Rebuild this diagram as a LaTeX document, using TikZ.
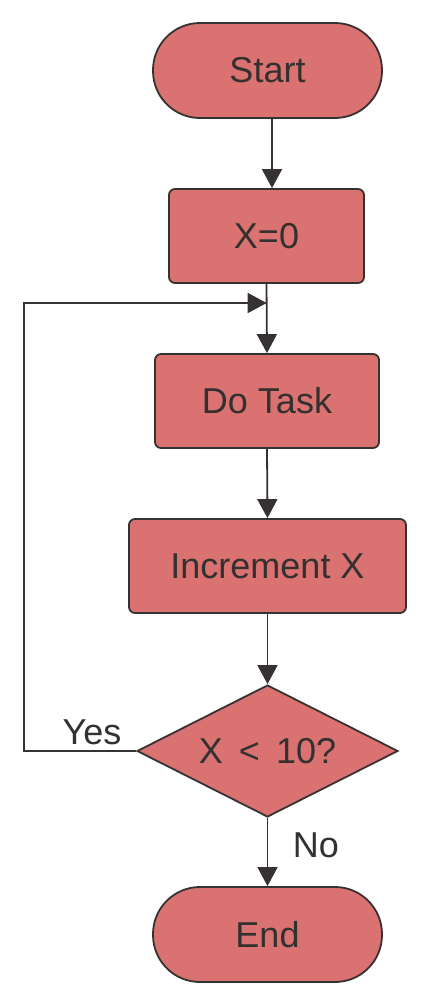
\documentclass[tikz,border=0pt]{standalone}
\usepackage{fontspec}
\setmainfont{Liberation Sans}
\usetikzlibrary{arrows.meta,shapes.geometric}
\definecolor{boxfill}{RGB}{217,114,112}
\definecolor{edge}{RGB}{54,50,50}
\definecolor{txt}{RGB}{51,48,48}
\tikzset{
  base/.style={draw=edge, line width=1.8bp, fill=boxfill, text=txt, inner sep=0pt,
    font=\fontsize{36bp}{42bp}\selectfont},
  pill/.style={base, rectangle, rounded corners=47bp, minimum width=229bp, minimum height=95bp},
  procbox/.style={base, rectangle, rounded corners=6bp, minimum height=94bp},
  decision/.style={base, diamond, minimum width=261bp, minimum height=132bp},
  lbl/.style={text=txt, inner sep=0pt, font=\fontsize{36bp}{42bp}\selectfont},
  conn/.style={draw=edge, line width=1.8bp, -{Triangle[length=19bp,width=20bp]}},
}
\begin{document}
\begin{tikzpicture}[x=1bp,y=-1bp]
\useasboundingbox (0,0) rectangle (429,1006);
\node[pill] (start) at (267.5,70.5) {Start};
\node[procbox, minimum width=195bp] (x0) at (266.5,236) {X=0};
\node[procbox, minimum width=224bp] (task) at (267,401) {Do Task};
\node[procbox, minimum width=277bp] (inc) at (267.5,566) {Increment X};
\node[decision] (dec) at (267.5,751) {};
\node[lbl] (decT) at (dec.center) {X\hspace{0.45em}<\hspace{0.45em}10?};
\node[pill] (end) at (267.5,934.5) {End};
\node[lbl] (yes) at (92,732) {Yes};
\node[lbl] (no) at (316,845) {No};
\coordinate (loopin) at (266.7,303);
\coordinate (loopleft) at (24,751);
\draw[conn] ([xshift=4.5bp]start.south) -- ([xshift=4.5bp]start.south |- x0.north);
\draw[conn] (x0.south) -- (task.north);
\draw[conn] (task.south) -- (inc.north);
\draw[conn] (inc.south) -- (dec.north);
\draw[conn] (dec.south) -- (end.north);
\draw[conn, line width=1.5bp] (dec.west) -- (loopleft) |- (loopin);
\end{tikzpicture}
\end{document}
